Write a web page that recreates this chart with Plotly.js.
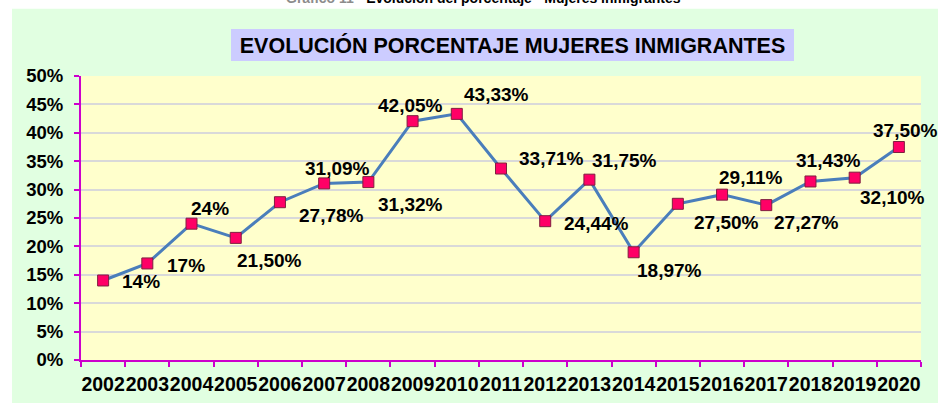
<!DOCTYPE html>
<html>
<head>
<meta charset="utf-8">
<script src="https://cdn.plot.ly/plotly-3.0.1.min.js"></script>
<style>html,body{margin:0;padding:0;background:#fff;}#chart{width:938px;height:403px;}</style>
</head>
<body>
<div id="chart"></div>
<script>
// ---- data ----
const years = ['2002','2003','2004','2005','2006','2007','2008','2009','2010','2011','2012','2013','2014','2015','2016','2017','2018','2019','2020'];
const pctWomen = [14, 17, 24, 21.5, 27.78, 31.09, 31.32, 42.05, 43.33, 33.71, 24.44, 31.75, 18.97, 27.50, 29.11, 27.27, 31.43, 32.10, 37.50];
const pctLabels = ['14%','17%','24%','21,50%','27,78%','31,09%','31,32%','42,05%','43,33%','33,71%','24,44%','31,75%','18,97%','27,50%','29,11%','27,27%','31,43%','32,10%','37,50%'];
const chartTitle = 'EVOLUCIÓN PORCENTAJE MUJERES INMIGRANTES';
const captionGray = 'Gráfico 11 - ';
const captionBlack = 'Evolución del porcentaje - Mujeres inmigrantes';

// ---- label placement (pixel offsets from each point, styling only) ----
const labelDX = [38, 38.5, 18, 34, 52, 13.5, 42, -2, 40, 50, 51.5, 35, 36, 49, 28, 40, 18.5, 37.5, 7];
const labelDY = [1.5, 2, -15, 23, 13, -15, 22, -16, -19, -10, 2.5, -19, 18, 19, -17, 17, -21, 20, -17];

const FONT = '"Liberation Sans", Arial, sans-serif';

const trace = {
  type: 'scatter',
  mode: 'lines+markers',
  x: years,
  y: pctWomen,
  line: {color: '#4a7ebb', width: 3},
  marker: {symbol: 'square', size: 11, color: '#ff0066', line: {color: '#7f1f3f', width: 1}},
  hoverinfo: 'none',
  cliponaxis: false
};

const annotations = pctLabels.map((t, i) => ({
  x: i, y: pctWomen[i], xref: 'x', yref: 'y',
  text: '<b>' + t + '</b>', showarrow: false, xanchor: 'center', yanchor: 'middle',
  xshift: labelDX[i], yshift: -labelDY[i],
  font: {family: FONT, size: 19, color: '#000'}
}));

annotations.push({
  xref: 'paper', yref: 'paper', x: 0.5137, y: 1.1105,
  xanchor: 'center', yanchor: 'middle', showarrow: false,
  text: '<b>' + chartTitle + '</b>',
  font: {family: FONT, size: 21.5, color: '#000'},
  bgcolor: '#ccccff', borderwidth: 0, borderpad: 0, width: 563, height: 32
});

annotations.push({
  xref: 'paper', yref: 'paper', x: 0.4792, y: 1.2404,
  xanchor: 'center', yanchor: 'bottom', showarrow: false,
  text: '<b><span style="color:#8c8c8c">' + captionGray + '</span>' + captionBlack + '</b>',
  font: {family: FONT, size: 14, color: '#000'}
});

const layout = {
  width: 938, height: 403,
  margin: {l: 81, r: 17, t: 75.5, b: 42.5, pad: 0},
  paper_bgcolor: '#e1ffe1',
  plot_bgcolor: '#ffffcc',
  showlegend: false,
  font: {family: FONT, color: '#000'},
  xaxis: {
    type: 'category', range: [-0.5, 18.5], fixedrange: true,
    tickson: 'boundaries', ticks: 'outside', ticklen: 5, tickwidth: 2, tickcolor: '#cc00cc',
    showline: true, linecolor: '#cc00cc', linewidth: 2,
    showgrid: false, zeroline: false, tickangle: 0, ticklabelstandoff: 6,
    tickfont: {family: FONT, size: 19.5, color: '#000', weight: 'bold'}
  },
  yaxis: {
    range: [0, 50], dtick: 5, tick0: 0, ticksuffix: '%', fixedrange: true,
    ticks: 'outside', ticklen: 5, tickwidth: 2, tickcolor: '#cc00cc',
    showline: true, linecolor: '#cc00cc', linewidth: 2,
    showgrid: true, gridcolor: '#d9d9d9', gridwidth: 2, zeroline: false, ticklabelstandoff: 7,
    tickfont: {family: FONT, size: 18.5, color: '#000', weight: 'bold'}
  },
  shapes: [
    {type: 'rect', xref: 'paper', yref: 'paper', x0: -1, x1: -0.08214, y0: -1, y1: 2, fillcolor: '#ffffff', line: {width: 0}, layer: 'below'},
    {type: 'rect', xref: 'paper', yref: 'paper', x0: -1, x1: 2, y0: 1.2368, y1: 2, fillcolor: '#ffffff', line: {width: 0}, layer: 'below'}
  ],
  annotations: annotations
};

Plotly.newPlot('chart', [trace], layout, {displayModeBar: false, staticPlot: true});
</script>
</body>
</html>
